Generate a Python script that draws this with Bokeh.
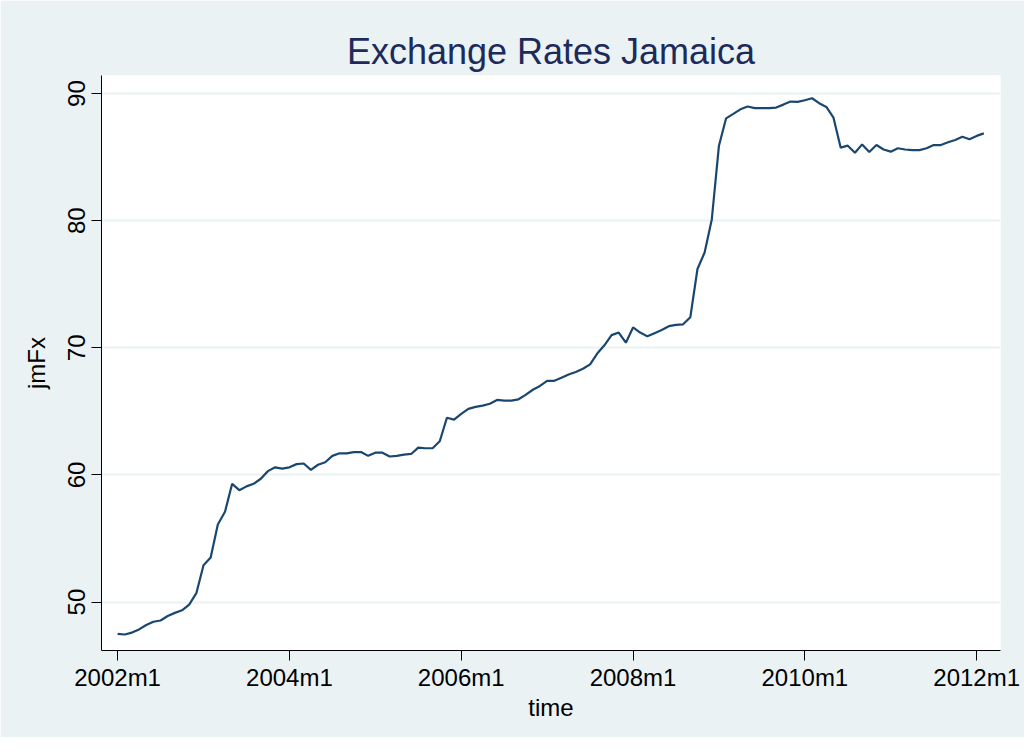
from bokeh.plotting import figure
from bokeh.models import FixedTicker, Range1d, ColumnDataSource
from bokeh.embed import file_html
from bokeh.resources import INLINE

# Monthly exchange rate, 2002m1 .. 2012m2
jmfx = [
    47.50, 47.45, 47.60, 47.85, 48.20, 48.45, 48.55, 48.90, 49.15, 49.35, 49.80, 50.70,
    52.90, 53.50, 56.10, 57.10, 59.30, 58.80, 59.10, 59.30, 59.70, 60.30, 60.60, 60.50,
    60.60, 60.85, 60.90, 60.40, 60.80, 61.00, 61.50, 61.70, 61.70, 61.80, 61.80, 61.50,
    61.75, 61.75, 61.45, 61.50, 61.60, 61.65, 62.15, 62.10, 62.10, 62.65, 64.50, 64.35,
    64.80, 65.20, 65.35, 65.45, 65.60, 65.90, 65.85, 65.85, 65.95, 66.30, 66.70, 67.00,
    67.40, 67.40, 67.65, 67.90, 68.10, 68.35, 68.70, 69.55, 70.20, 71.00, 71.20, 70.40,
    71.60, 71.20, 70.90, 71.15, 71.40, 71.70, 71.80, 71.85, 72.40, 76.20, 77.50, 80.10,
    85.90, 88.05, 88.40, 88.76, 88.98, 88.85, 88.85, 88.85, 88.90, 89.13, 89.37, 89.35,
    89.47, 89.63, 89.24, 88.95, 88.10, 85.75, 85.90, 85.35, 86.00, 85.40, 85.95, 85.60,
    85.43, 85.70, 85.60, 85.55, 85.55, 85.70, 85.95, 85.95, 86.17, 86.35, 86.60, 86.40,
    86.67, 86.87,
]
start_year = 2002
months = list(range(len(jmfx)))  # months since 2002m1
month_labels = [f"{start_year + m // 12}m{m % 12 + 1}" for m in months]

x_tick_months = [0, 24, 48, 72, 96, 120]
x_tick_labels = ["2002m1", "2004m1", "2006m1", "2008m1", "2010m1", "2012m1"]
y_ticks = [50, 60, 70, 80, 90]

BG = "#EAF2F3"
NAVY = "#1A476F"
FONT = "Liberation Sans"

src = ColumnDataSource(dict(t=months, y=jmfx, lab=month_labels))

p = figure(
    width=1024, height=737,
    x_range=Range1d(-2.25, 123.33), y_range=Range1d(46.19, 91.42),
    output_backend="svg", toolbar_location=None,
    min_border_left=101, min_border_right=24, min_border_top=75, min_border_bottom=87,
    title="Exchange Rates Jamaica",
)
p.background_fill_color = "white"
p.border_fill_color = BG
p.outline_line_color = None

p.title.align = "center"
p.title.text_font = FONT
p.title.text_font_size = "36px"
p.title.text_font_style = "normal"
p.title.text_color = "#1C2B5A"
p.title.standoff = 7

p.line("t", "y", source=src, line_color=NAVY, line_width=2.2)

p.xaxis.ticker = FixedTicker(ticks=x_tick_months)
p.xaxis.major_label_overrides = {m: l for m, l in zip(x_tick_months, x_tick_labels)}
p.yaxis.ticker = FixedTicker(ticks=y_ticks)
p.yaxis.major_label_orientation = "vertical"

for ax in (p.xaxis[0], p.yaxis[0]):
    ax.axis_line_color = "black"
    ax.axis_line_width = 1
    ax.major_tick_line_color = "black"
    ax.major_tick_out = 10
    ax.major_tick_in = 0
    ax.minor_tick_line_color = None
    ax.major_label_text_font = FONT
    ax.major_label_text_font_size = "24px"
    ax.major_label_text_color = "black"
    ax.axis_label_text_font = FONT
    ax.axis_label_text_font_size = "24px"
    ax.axis_label_text_font_style = "normal"
    ax.axis_label_text_color = "black"

p.xaxis.axis_label = "time"
p.yaxis.axis_label = "jmFx"
p.xaxis.major_label_standoff = 3
p.xaxis.axis_label_standoff = 0
p.yaxis.major_label_standoff = 6
p.yaxis.axis_label_standoff = 16

p.xgrid.visible = False
p.ygrid.grid_line_color = BG
p.ygrid.grid_line_width = 2

open("out.html", "w").write(file_html(p, INLINE))
